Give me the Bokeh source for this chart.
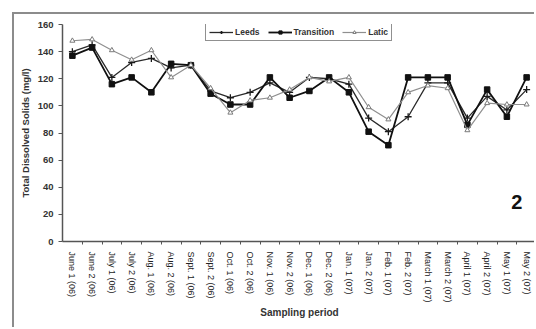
from bokeh.plotting import figure
from bokeh.models import Range1d, FixedTicker, Legend, LegendItem, Label
from bokeh.embed import file_html
from bokeh.resources import INLINE

# Sampling periods (two samplings per month, June 2006 - May 2007)
periods = [
    "June 1 (06)", "June 2 (06)", "July 1 (06)", "July 2 (06)",
    "Aug. 1 (06)", "Aug. 2 (06)", "Sept. 1 (06)", "Sept. 2 (06)",
    "Oct. 1 (06)", "Oct. 2 (06)", "Nov. 1 (06)", "Nov. 2 (06)",
    "Dec. 1 (06)", "Dec. 2 (06)", "Jan. 1 (07)", "Jan. 2 (07)",
    "Feb. 1 (07)", "Feb. 2 (07)", "March 1 (07)", "March 2 (07)",
    "April 1 (07)", "April 2 (07)", "May 1 (07)", "May 2 (07)",
]

# Total dissolved solids (mg/l) per site
leeds = [140, 145, 121, 132, 135, 128, 130, 111, 106, 110, 117, 110,
         121, 120, 116, 91, 81, 92, 117, 117, 91, 107, 97, 112]
transition = [137, 143, 116, 121, 110, 131, 130, 109, 101, 101, 121, 106,
              111, 121, 110, 81, 71, 121, 121, 121, 86, 112, 92, 121]
latic = [148, 149, 141, 134, 141, 121, 130, 113, 95, 104, 106, 112,
         121, 118, 121, 99, 90, 110, 115, 113, 82, 102, 101, 101]

y_ticks = [0, 20, 40, 60, 80, 100, 120, 140, 160]
panel_tag = "2"

FONT = "Liberation Sans"
idx = list(range(len(periods)))

p = figure(
    width=522, height=315,
    x_range=Range1d(-0.5, len(periods) - 0.5),
    y_range=Range1d(0, 160),
    output_backend="svg", toolbar_location=None,
    min_border_left=48, min_border_right=0,
    min_border_top=10, min_border_bottom=88,
)
p.styles = {
    "margin-left": "12px", "margin-top": "12px",
    "border-left": "2px solid #8c8c8c", "border-top": "2px solid #8c8c8c",
}
p.outline_line_color = None
p.xgrid.visible = False
p.ygrid.visible = False
p.background_fill_color = "white"
p.border_fill_color = "white"

# category labels at the centres, tick marks on the boundaries
p.xaxis.ticker = FixedTicker(ticks=idx, minor_ticks=[i + 0.5 for i in idx[:-1]])
p.xaxis.major_label_overrides = {i: lab for i, lab in zip(idx, periods)}
p.xaxis.major_label_orientation = "vertical"
p.xaxis.major_tick_line_color = None
p.xaxis.minor_tick_line_color = "#555555"
p.xaxis.minor_tick_out = 3
p.xaxis.minor_tick_in = 0
p.xaxis.axis_line_color = "#555555"
p.xaxis.axis_line_width = 1.5
p.xaxis.major_label_text_font = FONT
p.xaxis.major_label_text_font_size = "9px"
p.xaxis.major_label_text_color = "#222222"
p.xaxis.major_label_standoff = 4
p.xaxis.axis_label = "Sampling period"
p.xaxis.axis_label_text_font = FONT
p.xaxis.axis_label_text_font_size = "10px"
p.xaxis.axis_label_text_font_style = "bold"
p.xaxis.axis_label_text_color = "#333333"
p.xaxis.axis_label_standoff = 1

p.yaxis.ticker = FixedTicker(ticks=y_ticks)
p.yaxis.minor_tick_line_color = None
p.yaxis.major_tick_line_color = "#555555"
p.yaxis.major_tick_out = 4
p.yaxis.major_tick_in = 0
p.yaxis.axis_line_color = "#555555"
p.yaxis.axis_line_width = 1.5
p.yaxis.major_label_text_font = FONT
p.yaxis.major_label_text_font_size = "9.5px"
p.yaxis.major_label_text_font_style = "bold"
p.yaxis.major_label_text_color = "#333333"
p.yaxis.major_label_standoff = 5
p.yaxis.axis_label = "Total Dissolved Solids (mg/l)"
p.yaxis.axis_label_text_font = FONT
p.yaxis.axis_label_text_font_size = "9.5px"
p.yaxis.axis_label_text_font_style = "bold"
p.yaxis.axis_label_text_color = "#333333"
p.yaxis.axis_label_standoff = 4

# the three sites
l_line = p.line(idx, leeds, line_color="#2a2a2a", line_width=1.3)
l_mark = p.scatter(idx, leeds, marker="cross", size=7, line_color="#1a1a1a", line_width=1.3)

t_line = p.line(idx, transition, line_color="#111111", line_width=1.8)
t_mark = p.scatter(idx, transition, marker="square", size=5.5,
                   fill_color="#111111", line_color="#111111")

a_line = p.line(idx, latic, line_color="#8f8f8f", line_width=1.2)
a_mark = p.scatter(idx, latic, marker="triangle", size=5,
                   fill_color="white", line_color="#7a7a7a", line_width=1)

legend = Legend(
    items=[
        LegendItem(label="Leeds", renderers=[l_line, l_mark]),
        LegendItem(label="Transition", renderers=[t_line, t_mark]),
        LegendItem(label="Latic", renderers=[a_line, a_mark]),
    ],
    orientation="horizontal",
    location=(143, 200),
    label_text_font=FONT,
    label_text_font_size="8.5px",
    label_text_font_style="bold",
    label_text_color="#333333",
    glyph_width=24, glyph_height=8,
    label_standoff=2, spacing=8,
    padding=3, margin=0,
    border_line_color="#222222", border_line_width=1,
    background_fill_alpha=1,
)
p.add_layout(legend, "center")

p.add_layout(Label(
    x=22.5, y=29, text=panel_tag,
    text_font=FONT, text_font_size="20px", text_font_style="bold",
    text_color="#111111", text_align="center", text_baseline="middle",
))

open("out.html", "w").write(file_html(p, INLINE))
